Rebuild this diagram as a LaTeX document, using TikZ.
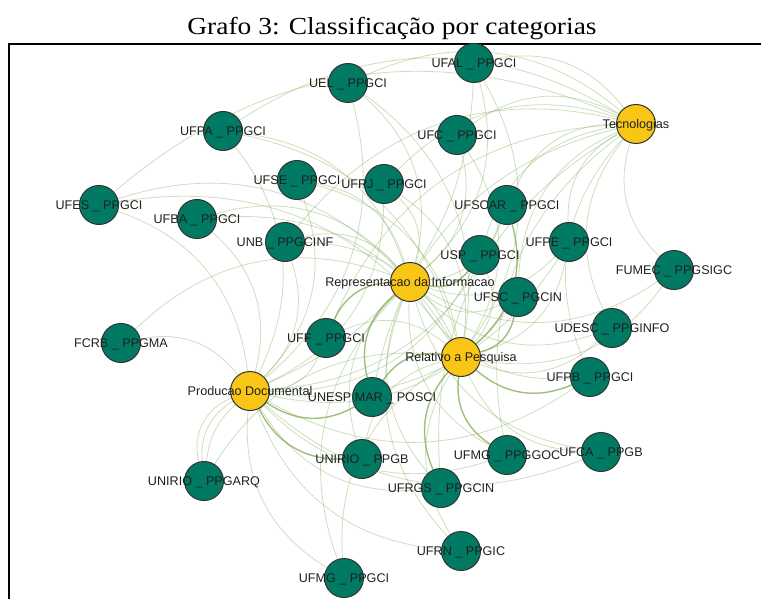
\documentclass[tikz,border=0pt]{standalone}
\usepackage{fontspec}
\setmainfont{Liberation Sans}
\newfontfamily\titlefont{Liberation Serif}
\definecolor{nodeteal}{RGB}{0,122,99}
\definecolor{nodeyellow}{RGB}{249,198,22}
\definecolor{edgegreen}{RGB}{125,168,80}
\pgfdeclarelayer{edges}
\pgfdeclarelayer{labels}
\pgfsetlayers{edges,main,labels}
\tikzset{
  inst/.style={circle, draw=black!80, line width=1pt, fill=nodeteal, minimum size=39pt, inner sep=0pt},
  cat/.style={inst, fill=nodeyellow},
  lbl/.style={font=\fontsize{12.6}{14}\selectfont, text=black!88, inner sep=0pt, anchor=base},
  edge/.style={draw=edgegreen, draw opacity=0.38, line width=0.8pt},
  heavy/.style={draw=edgegreen, draw opacity=0.6, line width=1.5pt},
  frame/.style={draw=black, line width=1.8pt}
}
\begin{document}
\begin{tikzpicture}[x=1pt,y=1pt]
\useasboundingbox (0,0) rectangle (761,-599);
% title and frame
\node[anchor=base, inner sep=0pt] (title) at (392,-35) {\titlefont\fontsize{24.5}{28}\selectfont\scalebox{1.12}[1]{Grafo 3: Classificação por categorias}};
\coordinate (fbl) at (9,-599);
\coordinate (ftl) at (9,-44);
\coordinate (ftr) at (761,-44);
\draw[frame] (fbl) -- (ftl) -- (ftr);
% category nodes
\node[cat] (rep)  at (410,-282) {};
\node[cat] (pesq) at (461,-357) {};
\node[cat] (tec)  at (636,-124) {};
\node[cat] (prod) at (250,-391) {};
% institution nodes
\node[inst] (ufal)    at (474,-63) {};
\node[inst] (uel)     at (348,-83) {};
\node[inst] (ufpa)    at (223,-131) {};
\node[inst] (ufc)     at (457,-135) {};
\node[inst] (ufse)    at (297,-180) {};
\node[inst] (ufrj)    at (384,-184) {};
\node[inst] (ufes)    at (99,-205) {};
\node[inst] (ufba)    at (197,-219) {};
\node[inst] (ufscar)  at (507,-205) {};
\node[inst] (unb)     at (285,-242) {};
\node[inst] (ufpe)    at (569,-242) {};
\node[inst] (usp)     at (480,-255) {};
\node[inst] (fumec)   at (674,-270) {};
\node[inst] (ufsc)    at (518,-297) {};
\node[inst] (fcrb)    at (121,-343) {};
\node[inst] (uff)     at (326,-338) {};
\node[inst] (udesc)   at (612,-328) {};
\node[inst] (unesp)   at (372,-397) {};
\node[inst] (ufpb)    at (590,-377) {};
\node[inst] (uniriob) at (362,-459) {};
\node[inst] (ufmggoc) at (507,-455) {};
\node[inst] (ufca)    at (601,-452) {};
\node[inst] (ufrgs)   at (441,-488) {};
\node[inst] (unirioarq) at (204,-481) {};
\node[inst] (ufrn)    at (461,-551) {};
\node[inst] (ufmgci)  at (344,-578) {};
% edges
\begin{pgfonlayer}{edges}
\foreach \a in {ufal,uel,ufpa,ufc,ufse,ufrj,ufes,ufba,ufscar,unb,ufpe,usp,fumec,ufsc,fcrb,uff,udesc,unesp,ufpb,uniriob,ufmggoc,ufca,ufrgs,ufrn,ufmgci}
  \draw[edge] (\a) to[bend left=32] (rep);
\foreach \a in {ufal,uel,ufpa,ufc,ufse,ufrj,ufes,ufba,ufscar,unb,ufpe,usp,fumec,ufsc,uff,udesc,unesp,ufpb,uniriob,ufmggoc,ufca,ufrgs,unirioarq,ufrn,ufmgci}
  \draw[edge] (\a) to[bend left=32] (pesq);
\foreach \a in {ufal,uel,ufpa,ufc,ufrj,ufes,ufscar,unb,ufpe,usp,fumec,ufsc,uff,udesc,unesp,ufpb,ufmggoc,ufrgs}
  \draw[edge] (\a) to[bend left=32] (tec);
\foreach \a in {ufal,uel,ufpa,ufse,ufrj,ufes,ufba,ufscar,unb,ufpe,usp,ufsc,fcrb,uff,unesp,ufpb,uniriob,ufmggoc,ufca,ufrgs,unirioarq,ufrn,ufmgci}
  \draw[edge] (\a) to[bend left=32] (prod);
\foreach \a/\b in {unesp/rep,unesp/pesq,ufsc/pesq,usp/rep,uff/rep,uniriob/prod,unesp/prod,ufrgs/pesq,ufscar/pesq,ufmggoc/pesq,ufpb/pesq}
  \draw[heavy] (\a) to[bend left=32] (\b);
\draw[edge] (unirioarq) to[bend left=20] (prod);
\draw[edge] (unirioarq) to[bend left=42] (prod);
\end{pgfonlayer}
% labels
\begin{pgfonlayer}{labels}
\foreach \n/\t in {rep/Representacao da Informacao, pesq/Relativo a Pesquisa, tec/Tecnologias, prod/Producao Documental,
  ufal/UFAL \_ PPGCI, uel/UEL \_ PPGCI, ufpa/UFPA \_ PPGCI, ufc/UFC \_ PPGCI, ufse/UFSE \_ PPGCI, ufrj/UFRJ \_ PPGCI,
  ufes/UFES \_ PPGCI, ufba/UFBA \_ PPGCI, ufscar/UFSCAR \_ PPGCI, unb/UNB \_ PPGCINF, ufpe/UFPE \_ PPGCI, usp/USP \_ PPGCI,
  fumec/FUMEC \_ PPGSIGC, ufsc/UFSC \_ PGCIN, fcrb/FCRB \_ PPGMA, uff/UFF \_ PPGCI, udesc/UDESC \_ PPGINFO,
  unesp/UNESP MAR \_ POSCI, ufpb/UFPB \_ PPGCI, uniriob/UNIRIO \_ PPGB, ufmggoc/UFMG \_ PPGGOC, ufca/UFCA \_ PPGB,
  ufrgs/UFRGS \_ PPGCIN, unirioarq/UNIRIO \_ PPGARQ, ufrn/UFRN \_ PPGIC, ufmgci/UFMG \_ PPGCI}
  \node[lbl] at ([yshift=-4.5pt]\n.center) {\t};
\end{pgfonlayer}
\end{tikzpicture}
\end{document}
